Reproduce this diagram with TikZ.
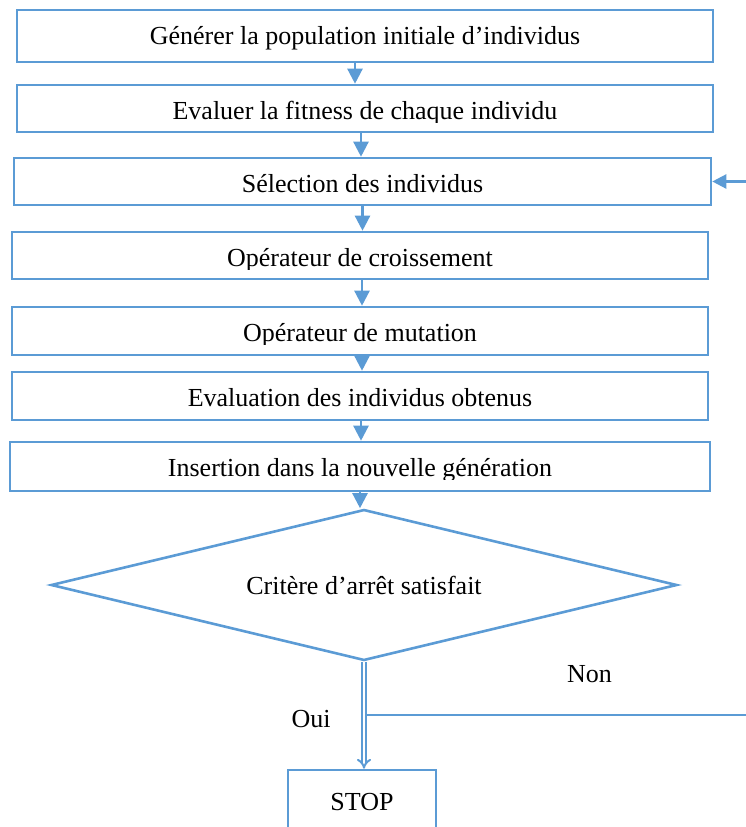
\documentclass[tikz,border=0pt]{standalone}
\usepackage{fontspec}
\setmainfont{Liberation Serif}
\usetikzlibrary{shapes.geometric,arrows.meta,calc}
\definecolor{flowblue}{HTML}{5B9BD5}

% one step of the flow: name, left, top, right, bottom, text, visible text depth
\newcommand\flowbox[7]{%
  \node[stepbox, minimum width={(#4-#2)*1pt}, minimum height={(#5-#3)*1pt}]
    (#1) at ({(#2+#4)/2},{(#3+#5)/2}) {};
  \begin{scope}
    \clip (#2,#3) rectangle (#4,{#3+#7});
    \node[lbl] (#1t) at ({(#2+#4)/2},{#3+34.5}) {#6};
  \end{scope}}

\begin{document}
\begin{tikzpicture}[x=1pt,y=-1pt,
  stepbox/.style={draw=flowblue, line width=2.6pt, rectangle, inner sep=0pt},
  lbl/.style={font=\fontsize{26}{30}\selectfont, inner sep=0pt, anchor=base},
  link/.style={draw=flowblue, line width=2.4pt, -{Triangle[length=15pt,width=15pt]}},
  back/.style={draw=flowblue, line width=2.4pt, -{Triangle[length=14pt,width=14pt]}},
  dbl/.style={draw=flowblue, line width=2pt, double=white, double distance=2.6pt, -{Implies}}]
\useasboundingbox (0,0) rectangle (746,827);

\flowbox{b1}{17}{10}{713}{62}{Générer la population initiale d’individus}{42}
\flowbox{b2}{17}{85}{713}{132}{Evaluer la fitness de chaque individu}{37}
\flowbox{b3}{14}{158}{711}{205}{Sélection des individus}{37}
\flowbox{b4}{12}{232}{708}{279}{Opérateur de croissement}{37}
\flowbox{b5}{12}{307}{708}{355}{Opérateur de mutation}{37}
\flowbox{b6}{12}{372}{708}{420}{Evaluation des individus obtenus}{37}
\flowbox{b7}{10}{442}{710}{491}{Insertion dans la nouvelle génération}{37}

% decision
\node[draw=flowblue, line width=2.6pt, diamond, aspect=4.15, inner sep=0pt,
      minimum width=626pt, minimum height=151pt,
      font=\fontsize{26}{30}\selectfont] (d) at (364,585) {Critère d’arrêt satisfait};

% end
\node[stepbox, minimum width=148pt, minimum height=80pt] (stop) at (362,810) {};
\node[lbl] (stopt) at (362,810) {STOP};

% sequence arrows, each straight down from the box above
\draw[link] ([xshift=-10pt]b1.south) -- ([xshift=-10pt]b1.south |- b2.north);
\draw[link] ([xshift=-4pt]b2.south) -- ([xshift=-4pt]b2.south |- b3.north);
\draw[link] (b3.south) -- (b3.south |- b4.north);
\draw[link] ([xshift=2pt]b4.south) -- ([xshift=2pt]b4.south |- b5.north);
\draw[link] ([xshift=2pt]b5.south) -- ([xshift=2pt]b5.south |- b6.north);
\draw[link] ([xshift=1pt]b6.south) -- ([xshift=1pt]b6.south |- b7.north);
\draw[link] (b7.south) -- (b7.south |- d.north);

% yes branch
\draw[dbl] (d.south) -- (d.south |- stop.north);
\node[lbl] (oui) at (311,727) {Oui};

% no branch, back to selection
\coordinate (j) at ($([xshift=3pt]d.south)!0.5!([xshift=3pt]d.south |- stop.north)$);
\draw[back] (j) -- ++(392,0) |- (b3.east);
\node[lbl] (non) at (589.5,682) {Non};
\end{tikzpicture}
\end{document}
